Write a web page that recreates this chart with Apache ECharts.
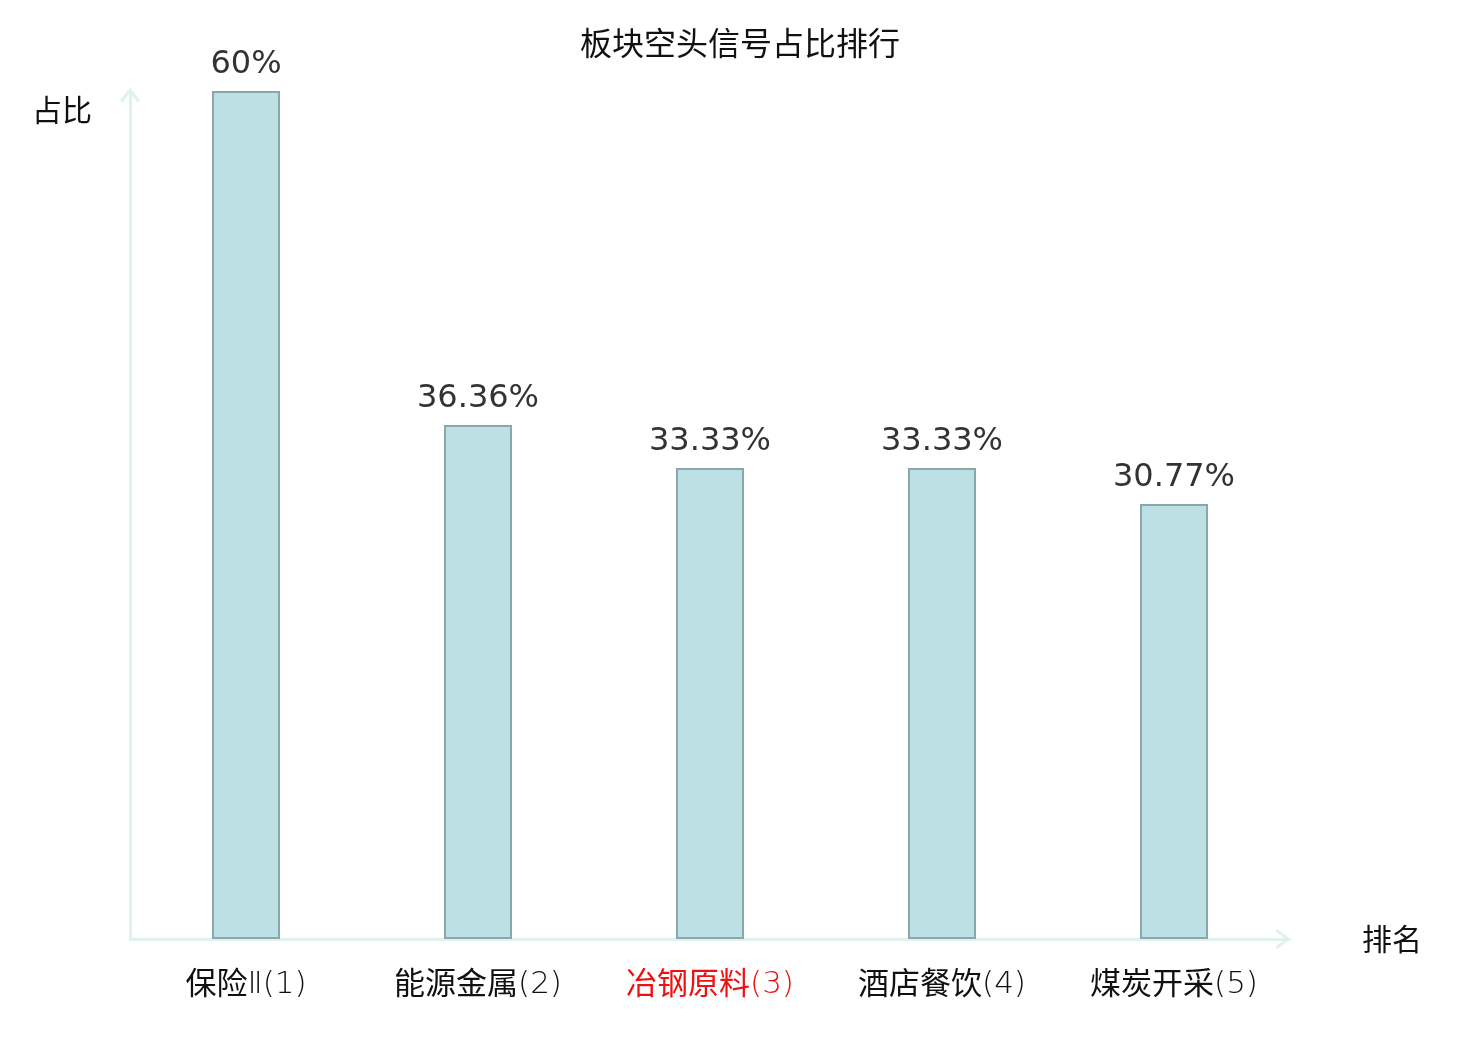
<!DOCTYPE html>
<html>
<head>
<meta charset="utf-8">
<title>板块空头信号占比排行</title>
<script src="https://cdn.jsdelivr.net/npm/echarts@6/dist/echarts.min.js"></script>
<style>
    html, body { margin: 0; padding: 0; background: #fff; }
    #chart { width: 1480px; height: 1040px; }
</style>
</head>
<body>
<div id="chart"></div>
<script>
    // 板块名称与排名
    var categories = ['保险Ⅱ(1)', '能源金属(2)', '冶钢原料(3)', '酒店餐饮(4)', '煤炭开采(5)'];
    // 空头信号占比 (%)
    var ratios = [60, 36.36, 33.33, 33.33, 30.77];
    // 需要标红的板块
    var highlightIndex = 2;

    var cjk = '"Noto Sans CJK SC", sans-serif';
    var thin = '"DejaVu Sans", "Noto Sans CJK SC", sans-serif';
    var axisColor = '#dff2ef';
    // 细线箭头
    var chevron = 'path://M10 0 L20 13 L17.6 14.8 L10 4.8 L2.4 14.8 L0 13 Z';

    // 中文部分常规字重，编号部分细体
    function catLabel(value, index) {
        var m = value.match(/^([\u4e00-\u9fa5]+)(.*)$/);
        var red = index === highlightIndex;
        return '{' + (red ? 'rn' : 'n') + '|' + m[1] + '}{' + (red ? 'rt' : 't') + '|' + m[2] + '}';
    }

    var myChart = echarts.init(document.getElementById('chart'));
    var option = {
        backgroundColor: '#fff',
        animation: false,
        title: {
            text: '板块空头信号占比排行',
            left: 'center',
            top: 22,
            textStyle: { fontFamily: cjk, fontSize: 32, fontWeight: 'normal', color: '#111' }
        },
        grid: { left: 130, right: 190, top: 91, bottom: 101, containLabel: false },
        xAxis: {
            type: 'category',
            data: categories,
            name: '排名',
            nameLocation: 'end',
            nameGap: 72,
            nameTextStyle: { fontFamily: cjk, fontSize: 30, color: '#111', align: 'left', verticalAlign: 'middle', padding: [12, 0, 0, 0] },
            axisTick: { show: false },
            axisLine: {
                lineStyle: { color: axisColor, width: 3 },
                symbol: ['none', chevron],
                symbolSize: [20, 15],
                symbolOffset: [0, -7]
            },
            axisLabel: {
                margin: 23,
                formatter: catLabel,
                rich: {
                    n: { fontFamily: cjk, fontSize: 31, color: '#111', lineHeight: 40 },
                    t: { fontFamily: thin, fontWeight: 200, fontSize: 31, color: '#111', lineHeight: 40, padding: [5, 0, 0, 0] },
                    rn: { fontFamily: cjk, fontSize: 31, color: '#ee1111', lineHeight: 40 },
                    rt: { fontFamily: thin, fontWeight: 200, fontSize: 31, color: '#ee1111', lineHeight: 40, padding: [5, 0, 0, 0] }
                }
            }
        },
        yAxis: {
            type: 'value',
            min: 0,
            max: 60,
            name: '占比',
            nameLocation: 'end',
            nameGap: -19,
            nameTextStyle: { fontFamily: cjk, fontSize: 30, color: '#111', align: 'right', verticalAlign: 'middle', padding: [0, 38, 0, 0] },
            axisLine: {
                show: true,
                lineStyle: { color: axisColor, width: 3 },
                symbol: ['none', chevron],
                symbolSize: [20, 15],
                symbolOffset: [0, -4]
            },
            axisTick: { show: false },
            axisLabel: { show: false },
            splitLine: { show: false }
        },
        series: [{
            type: 'bar',
            data: ratios,
            barWidth: 68,
            itemStyle: { color: '#bce0e3', borderColor: '#8aa7a9', borderWidth: 2 },
            label: {
                show: true,
                position: 'top',
                distance: 10,
                fontFamily: '"DejaVu Sans", sans-serif',
                fontSize: 32,
                color: '#333',
                formatter: function (p) { return p.value + '%'; }
            }
        }]
    };
    myChart.setOption(option);
</script>
</body>
</html>
